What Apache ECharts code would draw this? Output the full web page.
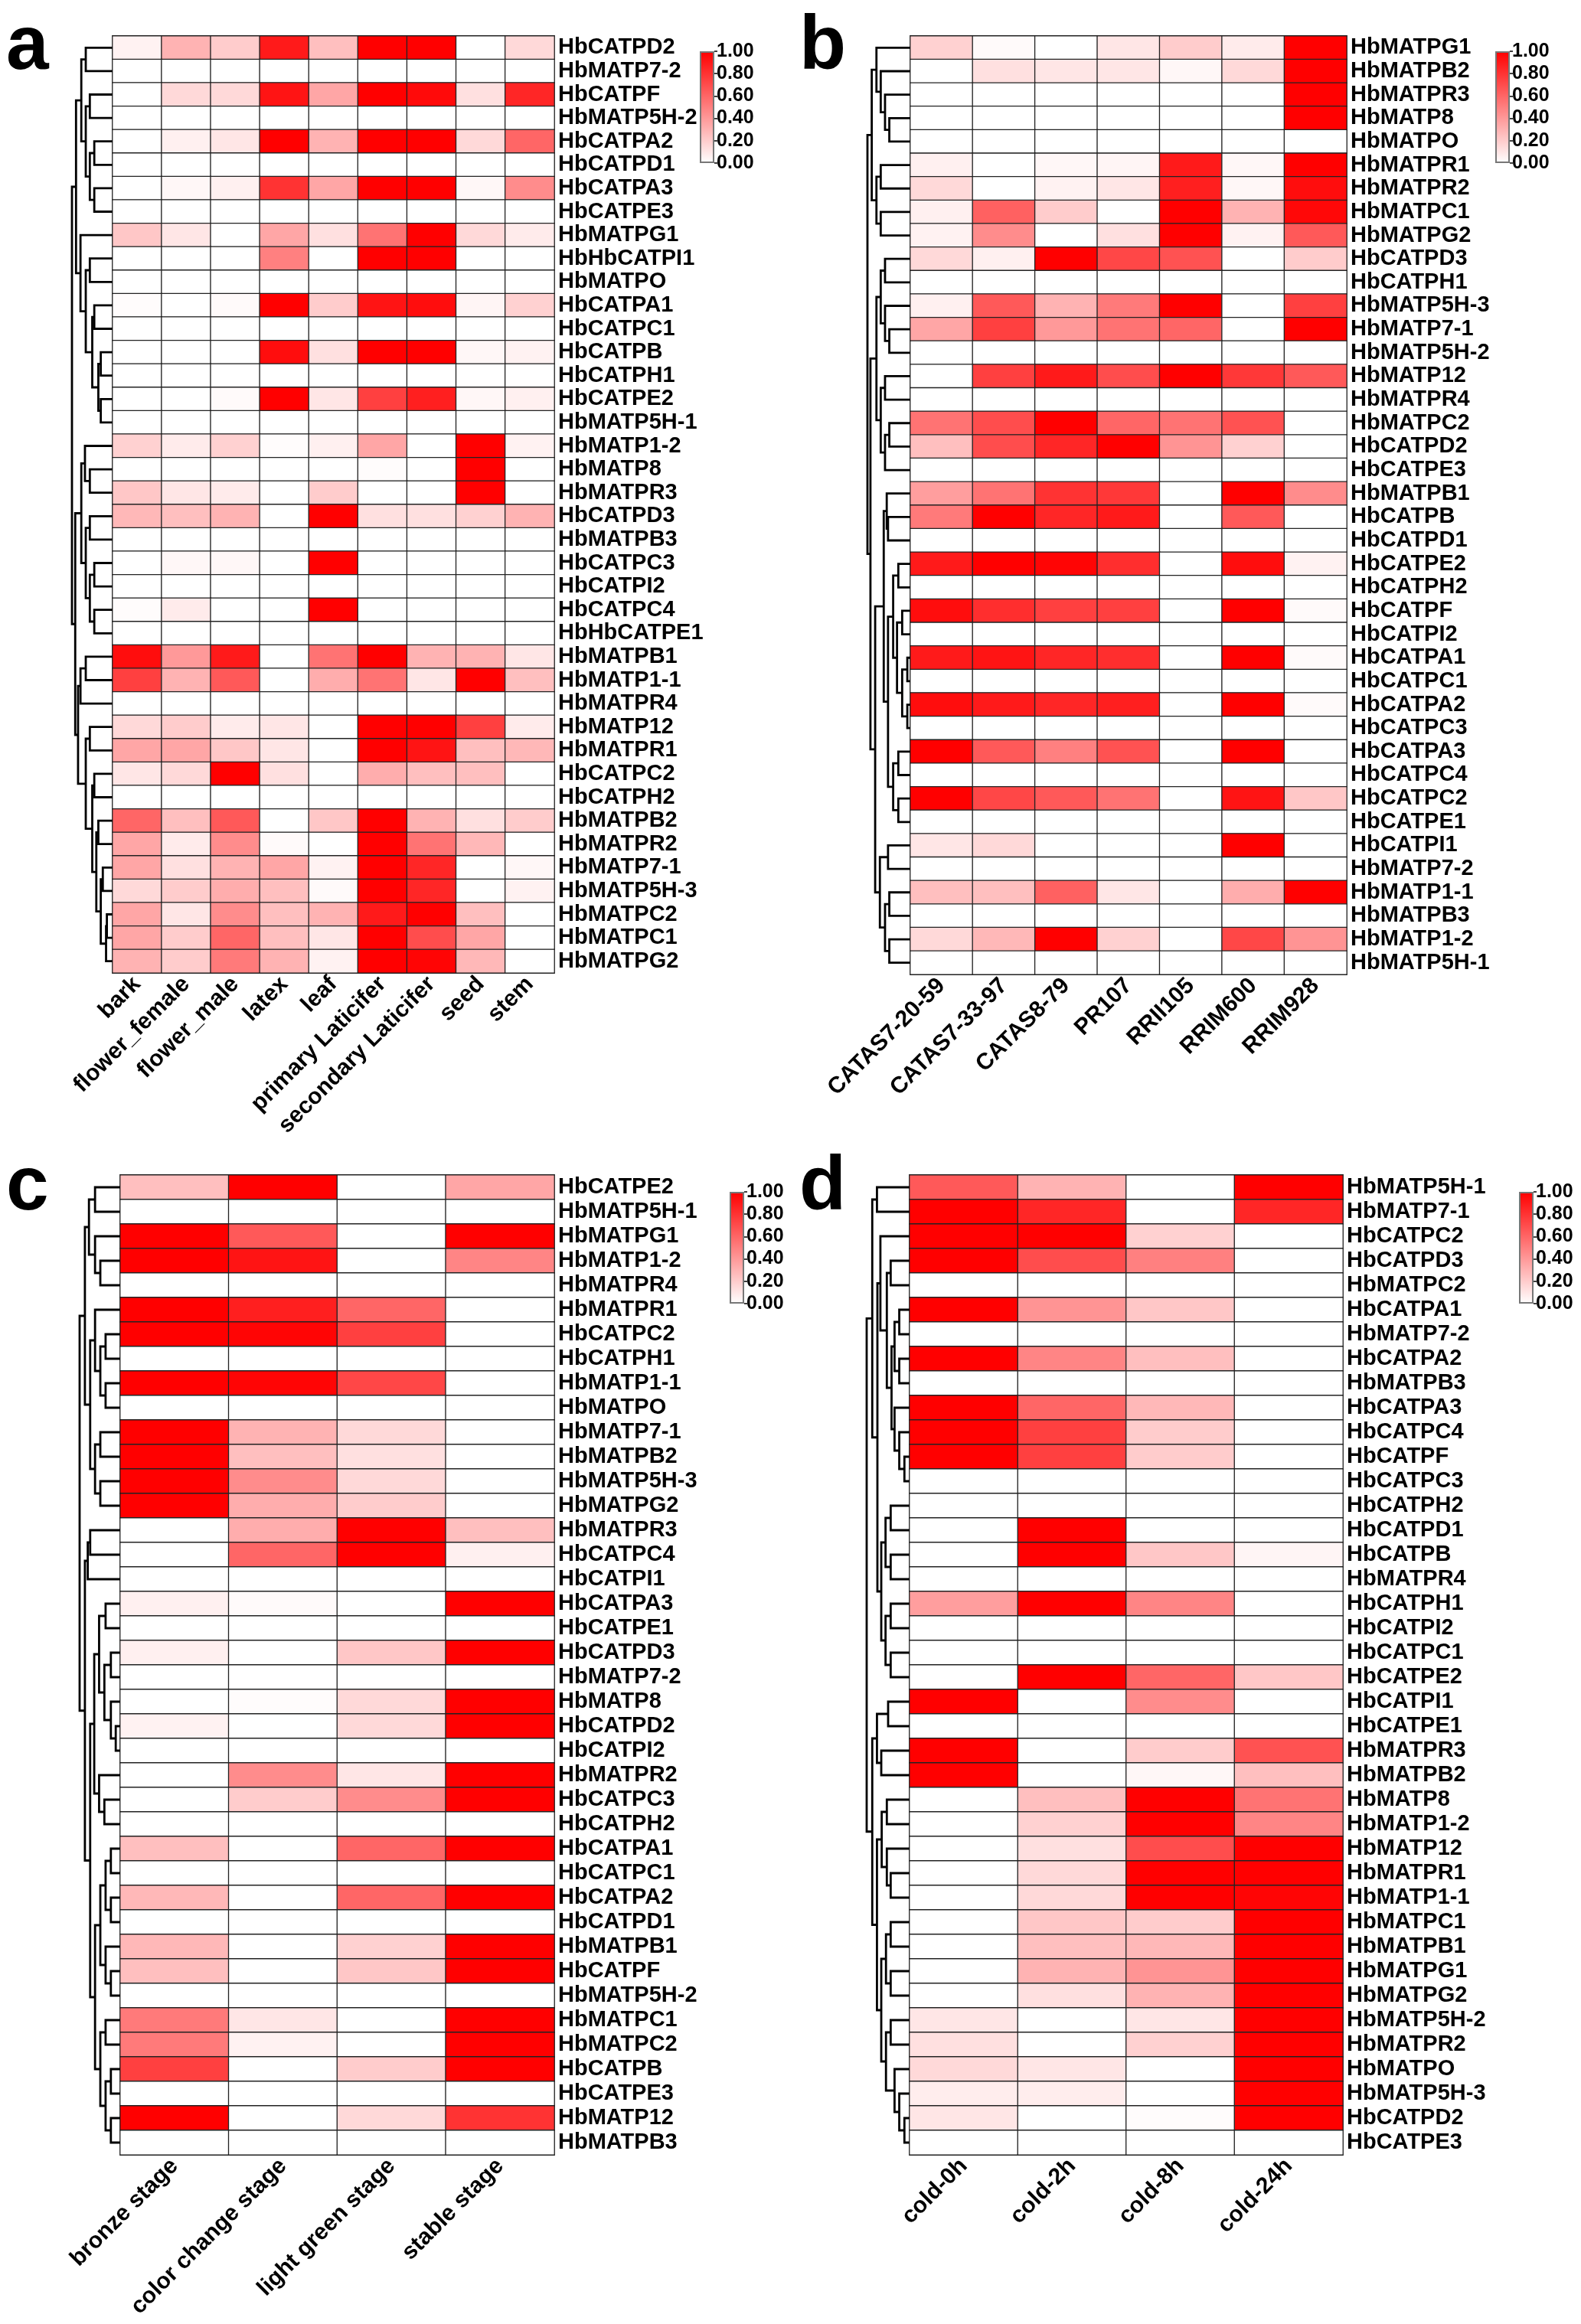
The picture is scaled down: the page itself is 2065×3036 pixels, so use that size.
<!DOCTYPE html>
<html>
<head>
<meta charset="utf-8">
<title>Hb ATPase expression heatmaps</title>
<script src="https://cdn.jsdelivr.net/npm/echarts@6.0.0/dist/echarts.min.js"></script>
<style>
  html, body { margin: 0; padding: 0; background: #fff; }
  #chart { width: 2065px; height: 3036px; }
</style>
</head>
<body>
<div id="chart"></div>
<script>
// ---- panel a: tissues ----
const tissueCols = ['bark', 'flower_female', 'flower_male', 'latex', 'leaf', 'primary Laticifer', 'secondary Laticifer', 'seed', 'stem'];
const tissueRows = ['HbCATPD2', 'HbMATP7-2', 'HbCATPF', 'HbMATP5H-2', 'HbCATPA2', 'HbCATPD1', 'HbCATPA3', 'HbCATPE3',
  'HbMATPG1', 'HbHbCATPI1', 'HbMATPO', 'HbCATPA1', 'HbCATPC1', 'HbCATPB', 'HbCATPH1', 'HbCATPE2', 'HbMATP5H-1',
  'HbMATP1-2', 'HbMATP8', 'HbMATPR3', 'HbCATPD3', 'HbMATPB3', 'HbCATPC3', 'HbCATPI2', 'HbCATPC4', 'HbHbCATPE1',
  'HbMATPB1', 'HbMATP1-1', 'HbMATPR4', 'HbMATP12', 'HbMATPR1', 'HbCATPC2', 'HbCATPH2', 'HbMATPB2', 'HbMATPR2',
  'HbMATP7-1', 'HbMATP5H-3', 'HbMATPC2', 'HbMATPC1', 'HbMATPG2'];
const tissueVals = [
  [0.05, 0.3, 0.2, 0.9, 0.25, 1, 1, 0, 0.15],
  [0, 0, 0, 0, 0, 0, 0, 0, 0],
  [0, 0.15, 0.15, 0.92, 0.35, 1, 0.96, 0.12, 0.85],
  [0, 0, 0, 0, 0, 0, 0, 0, 0],
  [0, 0.06, 0.1, 1, 0.3, 1, 1, 0.15, 0.6],
  [0, 0, 0, 0, 0, 0, 0, 0, 0],
  [0, 0.03, 0.06, 0.8, 0.35, 1, 1, 0.03, 0.45],
  [0, 0, 0, 0, 0, 0, 0, 0, 0],
  [0.22, 0.1, 0, 0.35, 0.12, 0.55, 1, 0.15, 0.08],
  [0, 0, 0, 0.5, 0, 1, 1, 0, 0],
  [0, 0, 0, 0, 0, 0, 0, 0, 0],
  [0.01, 0, 0.02, 1, 0.2, 0.92, 0.95, 0.04, 0.18],
  [0, 0, 0, 0, 0, 0, 0, 0, 0],
  [0, 0, 0, 0.95, 0.12, 1, 1, 0.03, 0.05],
  [0, 0, 0, 0, 0, 0, 0, 0, 0],
  [0, 0, 0.02, 1, 0.1, 0.75, 0.88, 0.03, 0.06],
  [0, 0, 0, 0, 0, 0, 0, 0, 0],
  [0.18, 0.08, 0.18, 0.01, 0.06, 0.35, 0, 1, 0.05],
  [0, 0, 0, 0, 0, 0.01, 0, 1, 0],
  [0.22, 0.1, 0.08, 0, 0.2, 0, 0, 1, 0],
  [0.28, 0.25, 0.3, 0, 1, 0.12, 0.12, 0.18, 0.3],
  [0, 0, 0, 0, 0, 0, 0, 0, 0],
  [0, 0.03, 0.03, 0, 1, 0, 0, 0, 0],
  [0, 0, 0, 0, 0, 0, 0, 0, 0],
  [0.01, 0.08, 0, 0, 1, 0, 0, 0, 0],
  [0, 0, 0, 0, 0, 0, 0, 0, 0],
  [0.95, 0.4, 0.9, 0, 0.55, 1, 0.3, 0.3, 0.1],
  [0.75, 0.3, 0.65, 0, 0.32, 0.55, 0.1, 1, 0.25],
  [0, 0, 0, 0, 0, 0, 0, 0, 0],
  [0.15, 0.2, 0.08, 0.1, 0, 1, 1, 0.75, 0.08],
  [0.35, 0.35, 0.22, 0.1, 0, 1, 0.92, 0.25, 0.28],
  [0.1, 0.15, 1, 0.12, 0, 0.32, 0.25, 0.25, 0],
  [0, 0, 0, 0, 0, 0, 0, 0, 0],
  [0.6, 0.25, 0.65, 0, 0.22, 1, 0.3, 0.12, 0.2],
  [0.35, 0.08, 0.45, 0.02, 0, 1, 0.55, 0.28, 0],
  [0.35, 0.12, 0.3, 0.35, 0.05, 1, 0.85, 0, 0.03],
  [0.15, 0.2, 0.32, 0.25, 0.02, 1, 0.85, 0, 0.05],
  [0.35, 0.1, 0.45, 0.25, 0.3, 0.9, 1, 0.25, 0],
  [0.35, 0.2, 0.6, 0.25, 0.1, 1, 0.7, 0.35, 0],
  [0.3, 0.2, 0.52, 0.3, 0.05, 1, 0.98, 0.28, 0]
];
// dendrogram: [height, left, right], leaves are row indexes
const tissueTree = [1,
  [0.9,
    [0.77, [0.66, 0, 1], [0.66, [0.56, 2, 3], [0.56, [0.45, 4, 5], [0.45, 6, 7]]]],
    [0.79, 8, [0.66, [0.56, 9, 10], [0.5, [0.45, 11, 12], [0.35, [0.29, 13, 14], [0.29, 15, 16]]]]]],
  [0.92,
    [0.77, [0.68, 17, [0.56, 18, 19]], [0.66, [0.56, 20, 21], [0.56, [0.45, 22, 23], [0.45, 24, 25]]]],
    [0.85, [0.79, [0.66, 26, 27], 28],
      [0.66, [0.56, 29, 30], [0.5, [0.45, 31, 32], [0.4, [0.35, 33, 34], [0.29, [0.24, 35, 36], [0.16, [0.14, 37, 38], 39]]]]]]]];

// ---- panel b: cultivars ----
const cultivarCols = ['CATAS7-20-59', 'CATAS7-33-97', 'CATAS8-79', 'PR107', 'RRII105', 'RRIM600', 'RRIM928'];
const cultivarRows = ['HbMATPG1', 'HbMATPB2', 'HbMATPR3', 'HbMATP8', 'HbMATPO', 'HbMATPR1', 'HbMATPR2', 'HbMATPC1',
  'HbMATPG2', 'HbCATPD3', 'HbCATPH1', 'HbMATP5H-3', 'HbMATP7-1', 'HbMATP5H-2', 'HbMATP12', 'HbMATPR4', 'HbMATPC2',
  'HbCATPD2', 'HbCATPE3', 'HbMATPB1', 'HbCATPB', 'HbCATPD1', 'HbCATPE2', 'HbCATPH2', 'HbCATPF', 'HbCATPI2',
  'HbCATPA1', 'HbCATPC1', 'HbCATPA2', 'HbCATPC3', 'HbCATPA3', 'HbCATPC4', 'HbCATPC2', 'HbCATPE1', 'HbCATPI1',
  'HbMATP7-2', 'HbMATP1-1', 'HbMATPB3', 'HbMATP1-2', 'HbMATP5H-1'];
const cultivarVals = [
  [0.18, 0.02, 0, 0.1, 0.2, 0.08, 1],
  [0, 0.12, 0.1, 0.1, 0.03, 0.15, 1],
  [0, 0, 0, 0, 0, 0, 1],
  [0, 0, 0, 0, 0, 0, 1],
  [0, 0, 0, 0, 0, 0, 0],
  [0.06, 0, 0.03, 0.04, 0.9, 0.03, 1],
  [0.15, 0, 0.05, 0.1, 0.88, 0.03, 0.95],
  [0.06, 0.62, 0.2, 0, 1, 0.3, 0.97],
  [0.05, 0.45, 0, 0.12, 1, 0.05, 0.65],
  [0.15, 0.06, 1, 0.72, 0.68, 0, 0.2],
  [0, 0, 0, 0, 0, 0, 0],
  [0.06, 0.65, 0.3, 0.52, 1, 0, 0.75],
  [0.35, 0.75, 0.4, 0.55, 0.6, 0, 1],
  [0, 0, 0, 0, 0, 0, 0],
  [0, 0.75, 0.9, 0.7, 1, 0.78, 0.65],
  [0, 0, 0, 0, 0, 0, 0],
  [0.55, 0.7, 1, 0.6, 0.55, 0.68, 0],
  [0.25, 0.7, 0.85, 1, 0.42, 0.18, 0],
  [0, 0, 0, 0, 0, 0, 0],
  [0.38, 0.55, 0.8, 0.78, 0, 1, 0.45],
  [0.52, 1, 0.85, 0.9, 0, 0.65, 0],
  [0, 0, 0, 0, 0, 0, 0],
  [0.9, 1, 0.98, 0.82, 0, 0.95, 0.05],
  [0, 0, 0, 0, 0, 0, 0],
  [0.95, 0.82, 0.75, 0.75, 0, 1, 0.02],
  [0, 0, 0, 0, 0, 0, 0],
  [0.9, 0.92, 0.85, 0.82, 0, 1, 0.02],
  [0, 0, 0, 0, 0, 0, 0],
  [0.95, 0.9, 0.85, 0.88, 0, 1, 0.02],
  [0, 0, 0, 0, 0, 0, 0],
  [1, 0.65, 0.5, 0.68, 0, 1, 0],
  [0, 0, 0, 0, 0, 0, 0],
  [1, 0.72, 0.65, 0.55, 0, 0.92, 0.22],
  [0, 0, 0, 0, 0, 0, 0],
  [0.1, 0.15, 0, 0, 0, 1, 0],
  [0, 0, 0, 0, 0, 0, 0],
  [0.25, 0.25, 0.62, 0.1, 0, 0.32, 1],
  [0, 0, 0, 0, 0, 0, 0],
  [0.15, 0.28, 1, 0.18, 0, 0.72, 0.42],
  [0, 0, 0, 0, 0, 0, 0]
];
const cultivarTree = [1,
  [0.9, [0.79, 0, [0.69, 1, [0.59, 2, [0.49, 3, 4]]]], [0.79, [0.69, 5, 6], [0.69, 7, 8]]],
  [0.93,
    [0.79, [0.69, [0.59, 9, 10], [0.59, 11, [0.49, 12, 13]]], [0.69, [0.59, 14, 15], [0.59, [0.49, 16, 17], 18]]],
    [0.82,
      [0.62, [0.55, 19, [0.52, 20, 21]],
        [0.52, [0.4, [0.28, 22, 23], [0.31, [0.19, 24, 25], [0.19, [0.07, 26, 27], [0.07, 28, 29]]]],
          [0.4, [0.28, 30, 31], [0.28, 32, 33]]]],
      [0.71, [0.52, 34, 35], [0.59, [0.49, 36, 37], [0.49, 38, 39]]]]]];

// ---- panel c: leaf stages ----
const stageCols = ['bronze stage', 'color change stage', 'light green stage', 'stable stage'];
const stageRows = ['HbCATPE2', 'HbMATP5H-1', 'HbMATPG1', 'HbMATP1-2', 'HbMATPR4', 'HbMATPR1', 'HbCATPC2', 'HbCATPH1',
  'HbMATP1-1', 'HbMATPO', 'HbMATP7-1', 'HbMATPB2', 'HbMATP5H-3', 'HbMATPG2', 'HbMATPR3', 'HbCATPC4', 'HbCATPI1',
  'HbCATPA3', 'HbCATPE1', 'HbCATPD3', 'HbMATP7-2', 'HbMATP8', 'HbCATPD2', 'HbCATPI2', 'HbMATPR2', 'HbCATPC3',
  'HbCATPH2', 'HbCATPA1', 'HbCATPC1', 'HbCATPA2', 'HbCATPD1', 'HbMATPB1', 'HbCATPF', 'HbMATP5H-2', 'HbMATPC1',
  'HbMATPC2', 'HbCATPB', 'HbCATPE3', 'HbMATP12', 'HbMATPB3'];
const stageVals = [
  [0.25, 1, 0, 0.35], [0, 0, 0, 0], [1, 0.65, 0, 1], [1, 0.92, 0, 0.48], [0, 0, 0, 0],
  [1, 0.88, 0.6, 0], [1, 0.98, 0.75, 0], [0, 0, 0, 0], [1, 0.98, 0.72, 0], [0, 0, 0, 0],
  [1, 0.3, 0.15, 0], [1, 0.25, 0.12, 0], [1, 0.45, 0.15, 0], [1, 0.32, 0.2, 0], [0, 0.32, 1, 0.25],
  [0, 0.6, 1, 0.06], [0, 0, 0, 0], [0.06, 0.02, 0, 1], [0, 0, 0, 0], [0.06, 0, 0.22, 1],
  [0, 0, 0, 0], [0, 0.01, 0.15, 1], [0.05, 0, 0.15, 1], [0, 0, 0, 0], [0, 0.45, 0.1, 1],
  [0, 0.2, 0.45, 1], [0, 0, 0, 0], [0.25, 0, 0.6, 1], [0, 0, 0, 0], [0.28, 0, 0.6, 1],
  [0, 0, 0, 0], [0.28, 0, 0.18, 1], [0.25, 0, 0.22, 1], [0, 0, 0, 0], [0.52, 0.1, 0, 1],
  [0.52, 0.05, 0, 1], [0.75, 0, 0.2, 1], [0, 0, 0, 0], [1, 0, 0.15, 0.8], [0, 0, 0, 0]
];
const stageTree = [1,
  [0.87, [0.77, [0.62, 0, 1], [0.62, 2, [0.49, 3, 4]]],
    [0.74, [0.62, 5, [0.49, [0.36, 6, 7], [0.36, 8, 9]]], [0.62, [0.49, 10, 11], [0.49, 12, 13]]]],
  [0.87, [0.8, [0.74, 14, 15], 16],
    [0.74,
      [0.64, [0.52, [0.36, 17, 18], [0.39, [0.23, 19, 20], [0.23, 21, [0.11, 22, 23]]]], [0.52, 24, [0.39, 25, 26]]],
      [0.62, [0.49, [0.36, [0.23, 27, 28], [0.23, 29, 30]], [0.36, 31, [0.23, 32, 33]]],
        [0.49, [0.36, 34, 35], [0.36, [0.23, 36, 37], [0.23, 38, 39]]]]]]];

// ---- panel d: cold stress ----
const coldCols = ['cold-0h', 'cold-2h', 'cold-8h', 'cold-24h'];
const coldRows = ['HbMATP5H-1', 'HbMATP7-1', 'HbCATPC2', 'HbCATPD3', 'HbMATPC2', 'HbCATPA1', 'HbMATP7-2', 'HbCATPA2',
  'HbMATPB3', 'HbCATPA3', 'HbCATPC4', 'HbCATPF', 'HbCATPC3', 'HbCATPH2', 'HbCATPD1', 'HbCATPB', 'HbMATPR4',
  'HbCATPH1', 'HbCATPI2', 'HbCATPC1', 'HbCATPE2', 'HbCATPI1', 'HbCATPE1', 'HbMATPR3', 'HbMATPB2', 'HbMATP8',
  'HbMATP1-2', 'HbMATP12', 'HbMATPR1', 'HbMATP1-1', 'HbMATPC1', 'HbMATPB1', 'HbMATPG1', 'HbMATPG2', 'HbMATP5H-2',
  'HbMATPR2', 'HbMATPO', 'HbMATP5H-3', 'HbCATPD2', 'HbCATPE3'];
const coldVals = [
  [0.65, 0.3, 0, 1], [1, 0.85, 0, 0.85], [1, 1, 0.18, 0], [1, 0.7, 0.5, 0], [0, 0, 0, 0],
  [1, 0.42, 0.22, 0], [0, 0, 0, 0], [1, 0.48, 0.25, 0], [0, 0, 0, 0], [1, 0.6, 0.28, 0],
  [1, 0.75, 0.2, 0], [1, 0.75, 0.2, 0], [0, 0, 0, 0], [0, 0, 0, 0], [0, 1, 0, 0],
  [0, 1, 0.22, 0.04], [0, 0, 0, 0], [0.38, 1, 0.48, 0], [0, 0, 0, 0], [0, 0, 0, 0],
  [0, 1, 0.6, 0.22], [1, 0, 0.45, 0], [0, 0, 0, 0], [1, 0, 0.2, 0.68], [1, 0, 0.03, 0.25],
  [0, 0.25, 1, 0.55], [0, 0.18, 1, 0.48], [0, 0.12, 0.7, 1], [0, 0.15, 1, 1], [0, 0.15, 1, 0.98],
  [0, 0.22, 0.2, 1], [0, 0.25, 0.28, 1], [0, 0.3, 0.42, 1], [0, 0.12, 0.3, 1], [0.1, 0, 0.1, 1],
  [0.12, 0, 0.18, 1], [0.15, 0.1, 0, 1], [0.07, 0.07, 0, 1], [0.1, 0, 0.01, 1], [0, 0, 0, 0]
];
const coldTree = [1,
  [0.87, [0.76, 0, 1],
    [0.75,
      [0.68, 2, [0.53, [0.44, 3, 4], [0.42, [0.35, [0.24, 5, 6], [0.24, 7, 8]], [0.35, 9, [0.24, 10, [0.12, 11, 12]]]]]],
      [0.66, [0.56, [0.44, 13, 14], [0.44, 15, 16]], [0.56, [0.44, 17, 18], [0.44, 19, 20]]]]],
  [0.87, [0.76, [0.5, 21, 22], [0.66, 23, 24]],
    [0.76, [0.65, [0.53, 25, 26], [0.53, 27, [0.44, 28, 29]]],
      [0.66, [0.55, [0.44, 30, 31], [0.44, 32, 33]],
        [0.55, [0.44, 34, 35], [0.35, 36, [0.24, 37, [0.12, 38, 39]]]]]]]];

const colorbarTicks = [0, 0.2, 0.4, 0.6, 0.8, 1];

// ---- layout (px) ----
const FONT = 'Liberation Sans, Arial, sans-serif';
const panels = [
  { letter: 'a', lx: 8, ly: 12, cols: tissueCols, rows: tissueRows, vals: tissueVals, tree: tissueTree,
    heat: { left: 147, top: 47, width: 577, height: 1224 }, dendLeft: 94, bar: { left: 914, top: 67 } },
  { letter: 'b', lx: 1044, ly: 12, cols: cultivarCols, rows: cultivarRows, vals: cultivarVals, tree: cultivarTree,
    heat: { left: 1189, top: 47, width: 570, height: 1226 }, dendLeft: 1133, bar: { left: 1953, top: 67 } },
  { letter: 'c', lx: 8, ly: 1502, cols: stageCols, rows: stageRows, vals: stageVals, tree: stageTree,
    heat: { left: 157, top: 1535, width: 567, height: 1280 }, dendLeft: 104, bar: { left: 953, top: 1557 } },
  { letter: 'd', lx: 1044, ly: 1502, cols: coldCols, rows: coldRows, vals: coldVals, tree: coldTree,
    heat: { left: 1188, top: 1535, width: 566, height: 1280 }, dendLeft: 1132, bar: { left: 1984, top: 1557 } }
];

function layoutTree(node, segs) {
  if (typeof node === 'number') return { y: node, h: 0 };
  const a = layoutTree(node[1], segs);
  const b = layoutTree(node[2], segs);
  segs.push([[a.h, a.y], [node[0], a.y], [node[0], b.y], [b.h, b.y]]);
  return { y: (a.y + b.y) / 2, h: node[0] };
}

const grid = [], xAxis = [], yAxis = [], series = [], graphic = [];

// heatmaps first so that the visualMap can target series 0..3
panels.forEach((p, i) => {
  grid.push(Object.assign({}, p.heat));
  xAxis.push({
    type: 'category', gridIndex: i, data: p.cols,
    axisLine: { show: false }, axisTick: { show: false }, splitArea: { show: false },
    axisLabel: { interval: 0, rotate: 45, margin: 10, color: '#000', fontWeight: 'bold', fontSize: 30, fontFamily: FONT }
  });
  yAxis.push({
    type: 'category', gridIndex: i, data: p.rows, inverse: true, position: 'right',
    axisLine: { show: false }, axisTick: { show: false }, splitArea: { show: false },
    axisLabel: { interval: 0, margin: 5, color: '#000', fontWeight: 'bold', fontSize: 29, fontFamily: FONT }
  });
  const data = [];
  p.vals.forEach((row, r) => row.forEach((v, c) => data.push([c, r, v])));
  series.push({
    type: 'heatmap', xAxisIndex: i, yAxisIndex: i, data: data, silent: true,
    itemStyle: { borderColor: '#222', borderWidth: 1.3 },
    emphasis: { disabled: true }
  });
});

panels.forEach((p, i) => {
  // dendrogram
  const gi = grid.length;
  grid.push({ left: p.dendLeft, top: p.heat.top, width: p.heat.left - p.dendLeft, height: p.heat.height });
  xAxis.push({ type: 'value', gridIndex: gi, min: 0, max: 1, inverse: true, show: false });
  yAxis.push({ type: 'value', gridIndex: gi, min: -0.5, max: p.rows.length - 0.5, inverse: true, show: false });
  const segs = [];
  layoutTree(p.tree, segs);
  series.push({
    type: 'lines', coordinateSystem: 'cartesian2d', xAxisIndex: gi, yAxisIndex: gi,
    polyline: true, silent: true,
    lineStyle: { color: '#000', width: 2.8, opacity: 1 },
    data: segs.map(s => ({ coords: s }))
  });

  // colour bar
  const bi = grid.length;
  grid.push({ left: p.bar.left, top: p.bar.top, width: 19, height: 146 });
  xAxis.push({ type: 'category', gridIndex: bi, data: ['scale'], show: false });
  yAxis.push({
    type: 'value', gridIndex: bi, min: 0, max: 1, interval: 0.2, position: 'right',
    splitLine: { show: false }, axisLine: { show: false },
    axisTick: { show: true, length: 4, lineStyle: { color: '#000', width: 1.5 } },
    axisLabel: {
      margin: 3, color: '#000', fontWeight: 'bold', fontSize: 25, fontFamily: FONT,
      formatter: v => colorbarTicks.indexOf(Math.round(v * 10) / 10) >= 0 ? v.toFixed(2) : ''
    }
  });
  series.push({
    type: 'bar', xAxisIndex: bi, yAxisIndex: bi, data: [1], barWidth: '100%', silent: true,
    itemStyle: {
      borderColor: '#777', borderWidth: 2,
      color: new echarts.graphic.LinearGradient(0, 0, 0, 1, [
        { offset: 0, color: '#ff0000' }, { offset: 1, color: '#ffffff' }
      ])
    }
  });

  graphic.push({
    type: 'text', left: p.lx, top: p.ly, silent: true,
    style: { text: p.letter, fill: '#000', font: 'bold 100px ' + FONT }
  });
});

const chart = echarts.init(document.getElementById('chart'));
chart.setOption({
  backgroundColor: '#fff',
  animation: false,
  grid: grid,
  xAxis: xAxis,
  yAxis: yAxis,
  visualMap: {
    show: false, type: 'continuous', min: 0, max: 1, seriesIndex: [0, 1, 2, 3],
    inRange: { color: ['#ffffff', '#ff0000'] }
  },
  graphic: graphic,
  series: series
});
</script>
</body>
</html>
